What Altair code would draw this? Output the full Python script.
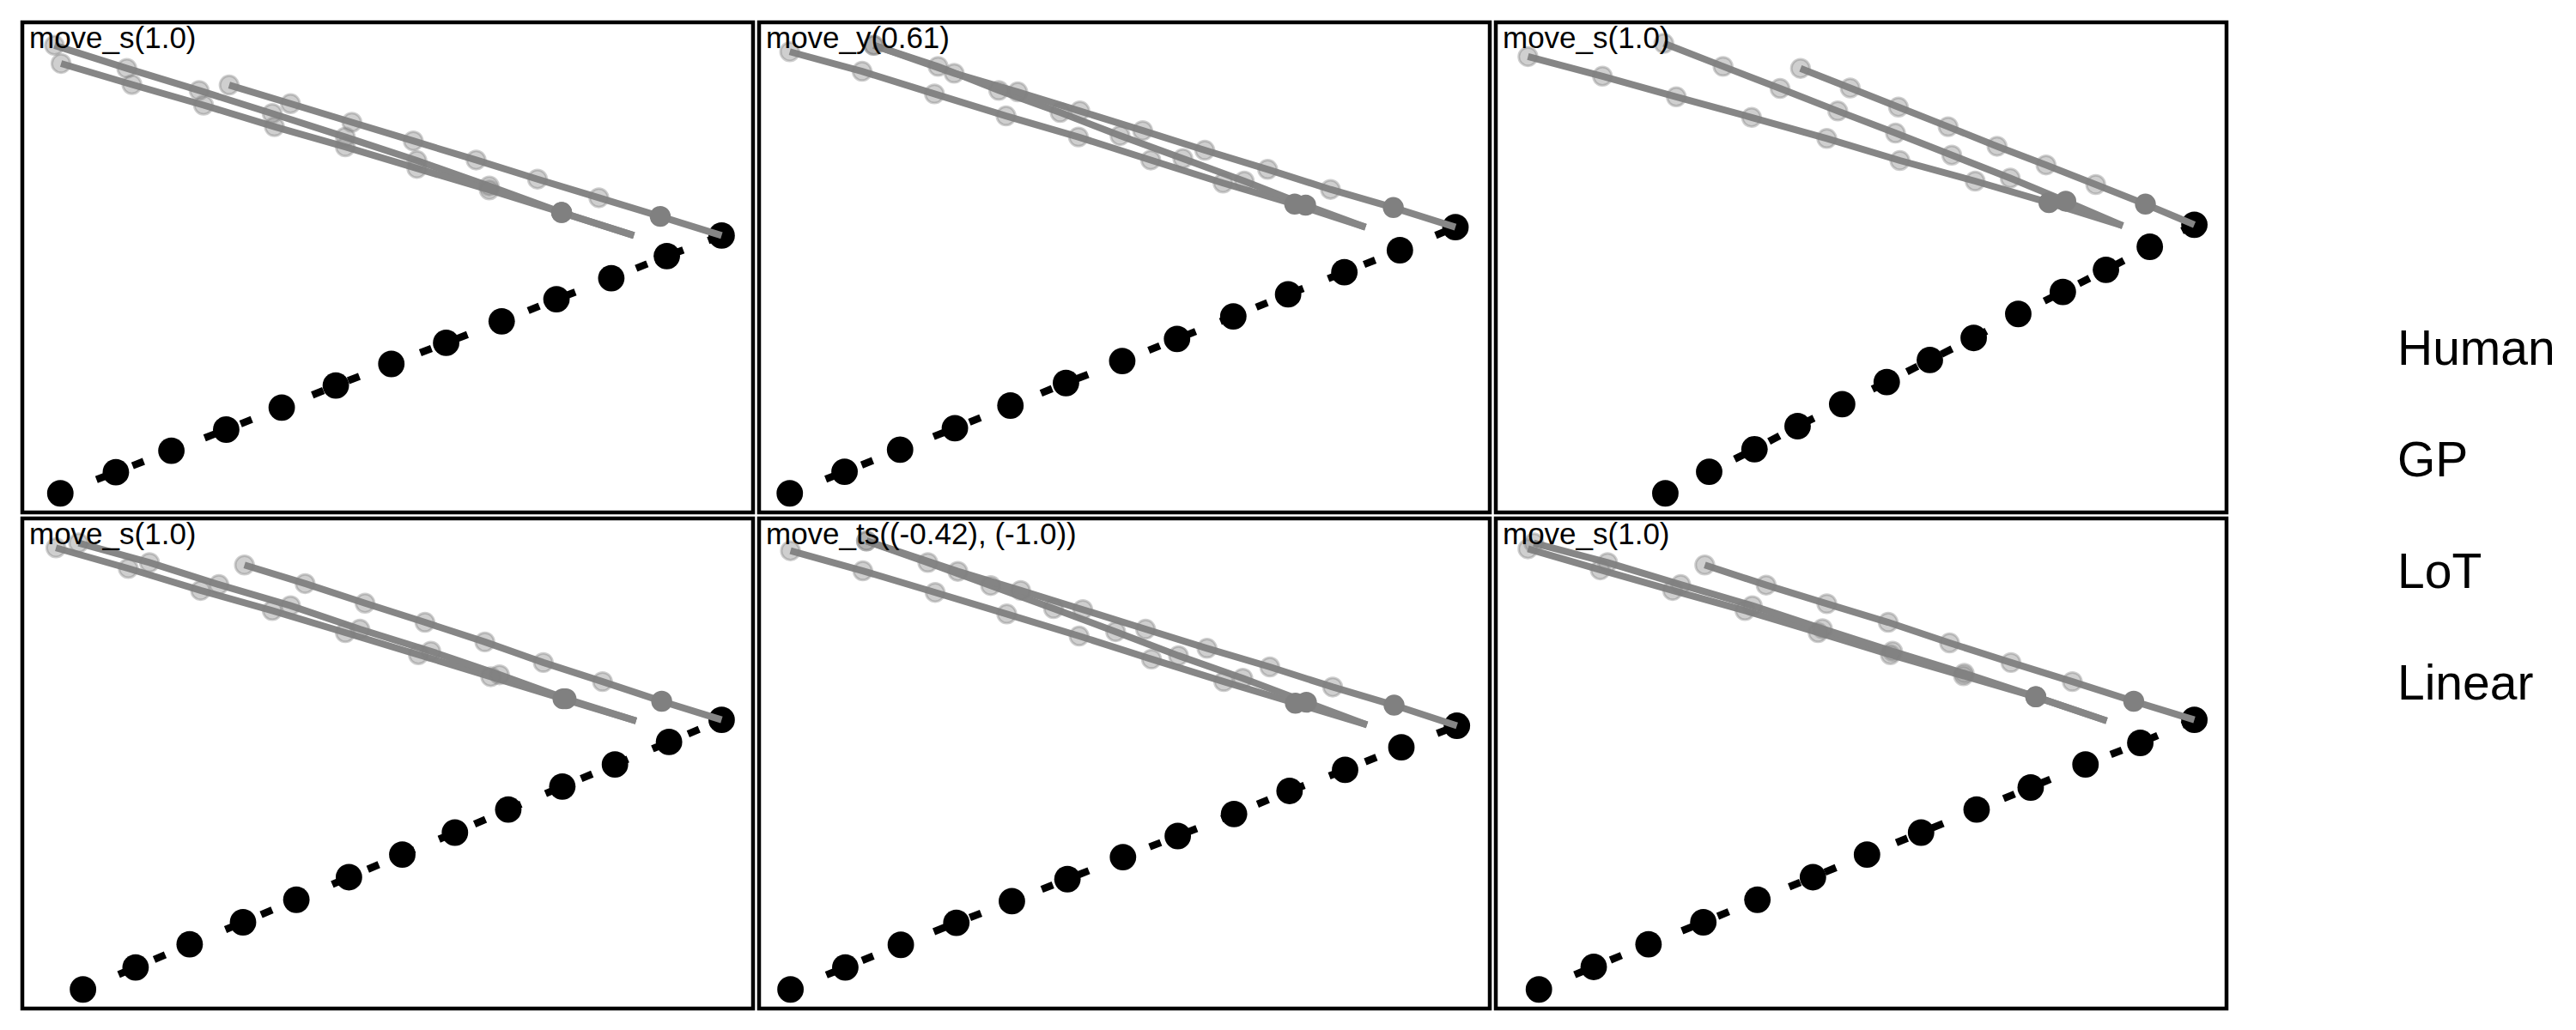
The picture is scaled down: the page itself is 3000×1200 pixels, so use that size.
import altair as alt
import pandas as pd

TITLES = ["move_s(1.0)", "move_y(0.61)", "move_s(1.0)",
          "move_s(1.0)", "move_ts((-0.42), (-1.0))", "move_s(1.0)"]
LEGEND_LABELS = ["Human", "GP", "LoT", "Linear"]
MODELS = ["GP", "LoT", "Linear"]

HUMAN_X = [
    [0.052, 0.128, 0.204, 0.279, 0.355, 0.429, 0.505, 0.580, 0.656, 0.731, 0.806, 0.882, 0.957],
    [0.042, 0.117, 0.193, 0.268, 0.344, 0.420, 0.497, 0.572, 0.649, 0.724, 0.801, 0.877, 0.953],
    [0.232, 0.292, 0.354, 0.413, 0.474, 0.535, 0.594, 0.654, 0.715, 0.776, 0.835, 0.895, 0.956],
    [0.083, 0.155, 0.229, 0.302, 0.375, 0.447, 0.520, 0.592, 0.665, 0.739, 0.811, 0.885, 0.957],
    [0.043, 0.118, 0.194, 0.270, 0.346, 0.422, 0.498, 0.573, 0.650, 0.726, 0.802, 0.879, 0.955],
    [0.059, 0.134, 0.209, 0.284, 0.358, 0.434, 0.508, 0.582, 0.658, 0.732, 0.807, 0.882, 0.956],
]
HUMAN_Y = [
    [0.039, 0.082, 0.126, 0.169, 0.214, 0.259, 0.303, 0.346, 0.390, 0.435, 0.478, 0.523, 0.565],
    [0.039, 0.083, 0.128, 0.172, 0.218, 0.264, 0.309, 0.354, 0.400, 0.445, 0.490, 0.535, 0.582],
    [0.039, 0.083, 0.129, 0.176, 0.221, 0.266, 0.311, 0.356, 0.405, 0.450, 0.495, 0.542, 0.587],
    [0.039, 0.084, 0.131, 0.176, 0.222, 0.268, 0.314, 0.359, 0.406, 0.453, 0.498, 0.544, 0.589],
    [0.039, 0.084, 0.130, 0.175, 0.219, 0.264, 0.309, 0.352, 0.397, 0.444, 0.487, 0.533, 0.577],
    [0.039, 0.085, 0.131, 0.176, 0.222, 0.268, 0.314, 0.359, 0.406, 0.451, 0.498, 0.542, 0.589],
]

GP_X = [
    [0.044, 0.143, 0.242, 0.342, 0.442, 0.540, 0.639, 0.738, 0.837],
    [0.042, 0.141, 0.240, 0.338, 0.437, 0.536, 0.635, 0.733, 0.830],
    [0.044, 0.146, 0.247, 0.350, 0.453, 0.553, 0.656, 0.757, 0.858],
    [0.046, 0.145, 0.244, 0.342, 0.442, 0.542, 0.641, 0.740, 0.840],
    [0.043, 0.142, 0.241, 0.339, 0.438, 0.537, 0.636, 0.734, 0.832],
    [0.044, 0.143, 0.242, 0.341, 0.441, 0.540, 0.640, 0.739, 0.836],
]
GP_Y = [
    [0.953, 0.906, 0.861, 0.814, 0.766, 0.718, 0.666, 0.612, 0.565],
    [0.940, 0.900, 0.854, 0.809, 0.766, 0.719, 0.672, 0.629, 0.582],
    [0.930, 0.890, 0.848, 0.806, 0.763, 0.718, 0.676, 0.632, 0.585],
    [0.940, 0.898, 0.853, 0.812, 0.767, 0.722, 0.677, 0.632, 0.587],
    [0.934, 0.893, 0.849, 0.805, 0.760, 0.713, 0.667, 0.623, 0.579],
    [0.938, 0.895, 0.853, 0.812, 0.767, 0.722, 0.679, 0.636, 0.587],
]

LOT_X = [
    [0.053, 0.150, 0.248, 0.345, 0.442, 0.540, 0.639, 0.738, 0.837],
    [0.157, 0.245, 0.328, 0.412, 0.494, 0.580, 0.664, 0.748, 0.830],
    [0.230, 0.311, 0.389, 0.468, 0.547, 0.624, 0.704, 0.780, 0.858],
    [0.077, 0.174, 0.269, 0.367, 0.462, 0.559, 0.653, 0.744, 0.840],
    [0.147, 0.231, 0.317, 0.403, 0.488, 0.574, 0.662, 0.749, 0.832],
    [0.052, 0.153, 0.253, 0.351, 0.447, 0.543, 0.641, 0.739, 0.836],
]
LOT_Y = [
    [0.916, 0.873, 0.831, 0.787, 0.746, 0.702, 0.658, 0.612, 0.565],
    [0.953, 0.910, 0.861, 0.816, 0.769, 0.722, 0.676, 0.627, 0.582],
    [0.957, 0.910, 0.865, 0.819, 0.774, 0.729, 0.682, 0.635, 0.585],
    [0.950, 0.910, 0.865, 0.822, 0.774, 0.729, 0.681, 0.632, 0.587],
    [0.954, 0.910, 0.863, 0.816, 0.769, 0.720, 0.674, 0.625, 0.579],
    [0.950, 0.910, 0.865, 0.822, 0.775, 0.729, 0.684, 0.636, 0.587],
]

LIN_X = [
    [0.283, 0.367, 0.451, 0.535, 0.621, 0.705, 0.789, 0.873, 0.957],
    [0.157, 0.267, 0.354, 0.439, 0.525, 0.610, 0.696, 0.782, 0.868, 0.953],
    [0.417, 0.485, 0.551, 0.619, 0.686, 0.753, 0.821, 0.889, 0.956],
    [0.304, 0.387, 0.469, 0.551, 0.633, 0.713, 0.794, 0.875, 0.957],
    [0.147, 0.272, 0.358, 0.443, 0.529, 0.613, 0.699, 0.785, 0.869, 0.955],
    [0.286, 0.370, 0.453, 0.537, 0.621, 0.705, 0.789, 0.873, 0.956],
]
LIN_Y = [
    [0.872, 0.834, 0.796, 0.758, 0.719, 0.680, 0.642, 0.604, 0.565],
    [0.953, 0.896, 0.858, 0.819, 0.779, 0.739, 0.700, 0.659, 0.622, 0.582],
    [0.906, 0.866, 0.827, 0.787, 0.747, 0.709, 0.669, 0.629, 0.587],
    [0.905, 0.867, 0.827, 0.788, 0.748, 0.706, 0.667, 0.627, 0.589],
    [0.954, 0.892, 0.853, 0.814, 0.774, 0.735, 0.697, 0.656, 0.619, 0.577],
    [0.905, 0.864, 0.826, 0.788, 0.746, 0.706, 0.667, 0.627, 0.589],
]

PANEL_W = 851
PANEL_H = 571
FONT = "Liberation Sans"

xs = alt.X("x:Q", scale=alt.Scale(domain=[0, 1], nice=False, zero=False), axis=None)
ys = alt.Y("y:Q", scale=alt.Scale(domain=[0, 1], nice=False, zero=False), axis=None)


def panel(i):
    human = pd.DataFrame({"x": HUMAN_X[i], "y": HUMAN_Y[i],
                          "step": list(range(len(HUMAN_X[i])))})
    rows = []
    for name, X, Y in zip(MODELS, [GP_X, LOT_X, LIN_X], [GP_Y, LOT_Y, LIN_Y]):
        n = len(X[i])
        for k in range(n):
            rows.append({"model": name, "x": X[i][k], "y": Y[i][k], "step": k,
                         "marker": k < n - 1, "final": k == n - 2})
    models = pd.DataFrame(rows)

    h_line = alt.Chart(human).mark_line(
        color="black", strokeWidth=8.5, strokeDash=[14, 31], strokeCap="butt"
    ).encode(x=xs, y=ys, order="step:Q")
    h_pts = alt.Chart(human).mark_circle(color="black", size=950, opacity=1).encode(x=xs, y=ys)

    m_lines = alt.Chart(models).mark_line(
        color="#868686", strokeWidth=8, strokeCap="butt"
    ).encode(x=xs, y=ys, detail="model:N", order="step:Q")
    m_pts = alt.Chart(models).transform_filter("datum.marker").mark_circle(
        fill="#808080", stroke="#808080", strokeWidth=3, size=460, opacity=1
    ).encode(
        x=xs, y=ys,
        fillOpacity=alt.condition("datum.final", alt.value(1.0), alt.value(0.38)),
        strokeOpacity=alt.condition("datum.final", alt.value(1.0), alt.value(0.38)),
    )
    title = alt.Chart(pd.DataFrame({"t": [TITLES[i]]})).mark_text(
        align="left", baseline="alphabetic", fontSize=35, font=FONT, color="black"
    ).encode(x=alt.value(8), y=alt.value(30), text="t:N")

    return alt.layer(h_line, h_pts, m_lines, m_pts, title).properties(
        width=PANEL_W, height=PANEL_H)


row1 = alt.hconcat(panel(0), panel(1), panel(2), spacing=1)
row2 = alt.hconcat(panel(3), panel(4), panel(5), spacing=1)
grid = alt.vconcat(row1, row2, spacing=1)

legend = alt.Chart(pd.DataFrame({"label": LEGEND_LABELS})).mark_text(
    align="left", baseline="middle", fontSize=57, font=FONT, color="black"
).encode(
    x=alt.value(0),
    y=alt.Y("label:N", sort=LEGEND_LABELS,
            scale=alt.Scale(type="point", range=[382, 772], padding=0), axis=None),
    text="label:N",
).properties(width=190, height=2 * PANEL_H + 5,
             view=alt.ViewBackground(strokeOpacity=0))

chart = alt.hconcat(grid, legend, spacing=196).properties(
    padding={"left": 15, "top": 15, "right": 0, "bottom": 8},
    background="white",
).configure_view(stroke="black", strokeWidth=4.5)

chart.save("out.html", embed_options={"renderer": "svg", "actions": False})
